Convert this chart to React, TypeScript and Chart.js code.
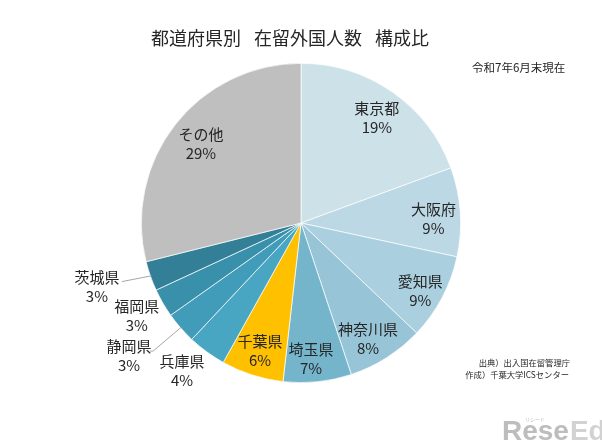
import React, { useEffect, useRef } from "react";
import { Chart, registerables } from "chart.js";

Chart.register(...registerables);

const prefectures = ["東京都", "大阪府", "愛知県", "神奈川県", "埼玉県", "千葉県", "兵庫県", "静岡県", "福岡県", "茨城県", "その他"];
const shares = [19.4, 9.0, 8.7, 7.8, 6.9, 6.3, 3.9, 3.2, 2.9, 3.0, 28.9];
const percentLabels = ["19%", "9%", "9%", "8%", "7%", "6%", "4%", "3%", "3%", "3%", "29%"];
const sliceColors = [
  "#cde1e9", "#bcd8e4", "#aacfde", "#97c4d6", "#74b5cc", "#ffc000",
  "#48a6c3", "#409cb9", "#3990ab", "#337f98", "#bfbfbf",
];
const titleParts = ["都道府県別", "在留外国人数", "構成比"];
const dateNote = "令和7年6月末現在";
const sourceLines = ["出典）出入国在留管理庁", "作成）千葉大学ICSセンター"];

const FONT = "'Noto Sans CJK JP', 'Noto Sans', sans-serif";
const TEXT_COLOR = "#262626";

// label placement: radius factor, angle offset (deg), optional leader end offsets from label center
const placement: { f: number; da: number; leader?: number[][] }[] = [
  { f: 0.81, da: 1 },
  { f: 0.83, da: 2 },
  { f: 0.86, da: 1.8 },
  { f: 0.84, da: 2.4 },
  { f: 0.85, da: 1.7 },
  { f: 0.84, da: 0 },
  { f: 1.19, da: 2.6 },
  { f: 1.36, da: 3.4, leader: [[24, -4.5], [21, -4.5]] },
  { f: 1.18, da: 0.7 },
  { f: 1.34, da: 2, leader: [[25, -5.5]] },
  { f: 0.8, da: 0.4 },
];

const textPlugin = {
  id: "textPlugin",
  afterDraw(chart: any) {
    const ctx = chart.ctx as CanvasRenderingContext2D;
    const meta = chart.getDatasetMeta(0);
    ctx.save();
    ctx.fillStyle = TEXT_COLOR;
    ctx.textAlign = "center";
    ctx.textBaseline = "middle";
    meta.data.forEach((arc: any, i: number) => {
      const p = arc.getProps(["x", "y", "startAngle", "endAngle", "outerRadius"], true);
      const pl = placement[i];
      const mid = (p.startAngle + p.endAngle) / 2 + (pl.da * Math.PI) / 180;
      const lx = p.x + Math.cos(mid) * p.outerRadius * pl.f;
      const ly = p.y + Math.sin(mid) * p.outerRadius * pl.f;
      if (pl.leader) {
        const mid0 = (p.startAngle + p.endAngle) / 2;
        ctx.strokeStyle = "#a6a6a6";
        ctx.lineWidth = 1;
        ctx.beginPath();
        ctx.moveTo(p.x + Math.cos(mid0) * (p.outerRadius - 1), p.y + Math.sin(mid0) * (p.outerRadius - 1));
        pl.leader.forEach((pt) => ctx.lineTo(lx + pt[0], ly + pt[1]));
        ctx.stroke();
      }
      ctx.font = `15px ${FONT}`;
      ctx.fillText(prefectures[i], lx, ly - 9.5);
      ctx.fillText(percentLabels[i], lx, ly + 9.5);
    });

    // title
    ctx.font = `18px ${FONT}`;
    ctx.textAlign = "left";
    const gap = 13;
    const widths = titleParts.map((t) => ctx.measureText(t).width);
    const total = widths.reduce((a, b) => a + b, 0) + gap * (titleParts.length - 1);
    let x = 290 - total / 2;
    titleParts.forEach((t, k) => {
      ctx.fillText(t, x, 38);
      x += widths[k] + gap;
    });

    // date note
    ctx.font = `11.5px ${FONT}`;
    ctx.textAlign = "left";
    ctx.fillText(dateNote, 472, 68);

    // source
    ctx.font = `8.3px ${FONT}`;
    ctx.textAlign = "right";
    ctx.fillText(sourceLines[0], 570, 363);
    ctx.fillText(sourceLines[1], 569, 375);

    // watermark
    ctx.textBaseline = "alphabetic";
    ctx.textAlign = "left";
    ctx.font = `bold 28px 'Liberation Sans', sans-serif`;
    ctx.fillStyle = "#bdbdbd";
    ctx.fillText("Rese", 502, 440);
    const w = ctx.measureText("Rese").width;
    ctx.fillStyle = "#d2d2d2";
    ctx.fillText("Ed", 502 + w + 1, 440);
    ctx.fillStyle = "#bdbdbd";
    ctx.font = `5px ${FONT}`;
    ctx.fillText("リシード", 525, 421);
    ctx.restore();
  },
};

export default function App() {
  const canvasRef = useRef<HTMLCanvasElement | null>(null);
  useEffect(() => {
    if (!canvasRef.current) return;
    const chart = new Chart(canvasRef.current, {
      type: "pie",
      data: {
        labels: prefectures,
        datasets: [
          {
            data: shares,
            backgroundColor: sliceColors,
            borderColor: "#ffffff",
            borderWidth: 0.7,
          },
        ],
      },
      options: {
        responsive: false,
        animation: false,
        layout: { padding: { top: 63, bottom: 63, left: 0, right: 0 } },
        plugins: {
          legend: { display: false },
          tooltip: { enabled: false },
          title: { display: false },
        },
      },
      plugins: [textPlugin],
    });
    return () => chart.destroy();
  }, []);
  return (
    <div style={{ position: "fixed", left: 0, top: 0, width: 602, height: 446, background: "#ffffff" }}>
      <canvas ref={canvasRef} width={602} height={446} style={{ width: 602, height: 446 }} />
    </div>
  );
}
